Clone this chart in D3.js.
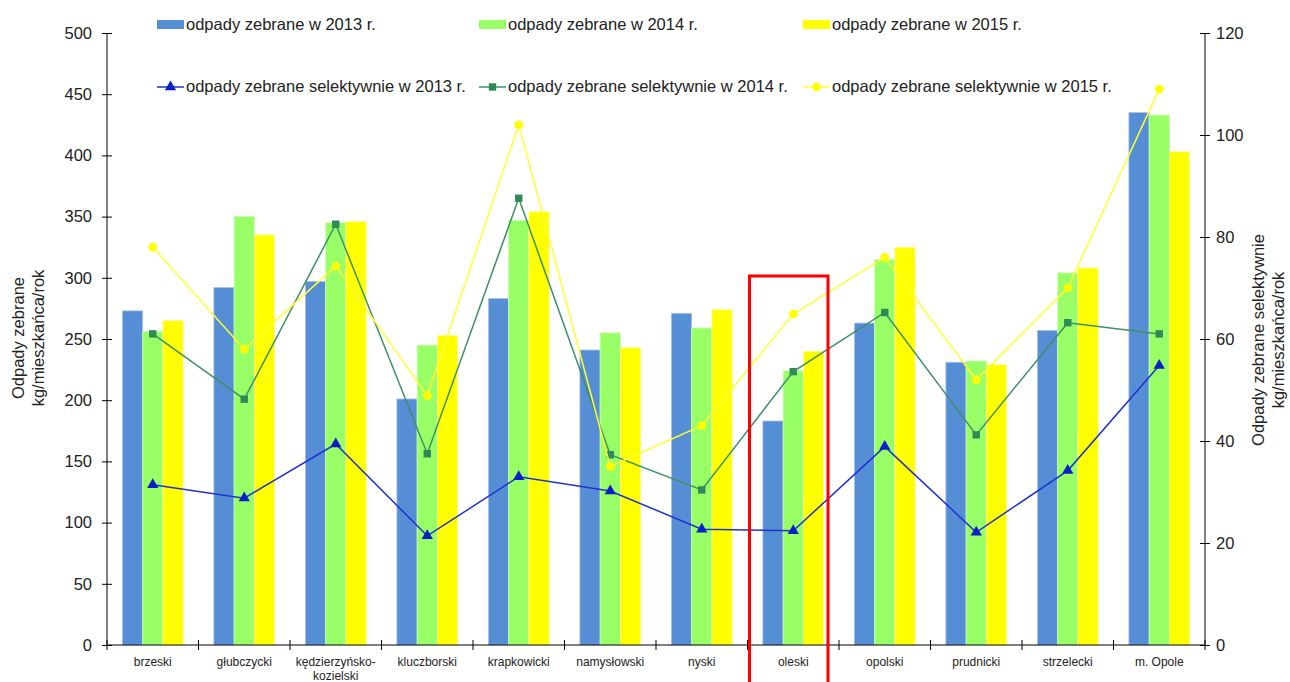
<!DOCTYPE html>
<html>
<head>
<meta charset="utf-8">
<script src="https://cdn.jsdelivr.net/npm/d3@7"></script>
<style>
  body { margin: 0; background: #fff; }
  svg { display: block; font-family: "Liberation Sans", Arial, sans-serif; }
  .axis path, .axis line { stroke: #000; }
  .axis text { font-size: 16.5px; fill: #222; }
</style>
</head>
<body>
<div id="chart"></div>
<script>
// categories + values (kg per person per year)
const powiaty = ["brzeski", "głubczycki", "kędzierzyńsko-kozielski", "kluczborski", "krapkowicki",
  "namysłowski", "nyski", "oleski", "opolski", "prudnicki", "strzelecki", "m. Opole"];

const zebrane2013 = [273, 292, 297, 201, 283, 241, 271, 183, 263, 231, 257, 435];
const zebrane2014 = [256, 350, 345, 245, 347, 255, 259, 224, 315, 232, 304, 433];
const zebrane2015 = [265, 335, 346, 253, 354, 243, 274, 240, 325, 229, 308, 403];

const selekt2013 = [31.4, 28.8, 39.4, 21.4, 33.0, 30.2, 22.7, 22.4, 38.9, 22.1, 34.2, 54.8];
const selekt2014 = [61.0, 48.2, 82.5, 37.5, 87.6, 37.3, 30.4, 53.6, 65.2, 41.2, 63.2, 61.0];
const selekt2015 = [78.0, 58.0, 74.3, 48.9, 102.0, 35.0, 43.0, 64.9, 76.0, 52.0, 70.0, 109.0];

const leftTicks = [0, 50, 100, 150, 200, 250, 300, 350, 400, 450, 500];
const rightTicks = [0, 20, 40, 60, 80, 100, 120];

const barSeries = [
  { name: "odpady zebrane w 2013 r.", values: zebrane2013, color: "#568ed6", edge: "#a8c3ea" },
  { name: "odpady zebrane w 2014 r.", values: zebrane2014, color: "#99ff66", edge: "#c8ffb0" },
  { name: "odpady zebrane w 2015 r.", values: zebrane2015, color: "#ffff00", edge: "#ffff99" }
];
const lineSeries = [
  { name: "odpady zebrane selektywnie w 2013 r.", values: selekt2013, color: "#1f33cc", marker: "#0a1ec8", shape: d3.symbolTriangle },
  { name: "odpady zebrane selektywnie w 2014 r.", values: selekt2014, color: "#3d9066", marker: "#2e8b57", shape: d3.symbolSquare },
  { name: "odpady zebrane selektywnie w 2015 r.", values: selekt2015, color: "#ffff33", marker: "#ffff00", shape: d3.symbolCircle }
];

const width = 1290, height = 682;
const plot = { left: 107, right: 1205, top: 33, bottom: 645 };

const svg = d3.select("#chart").append("svg")
  .attr("width", width)
  .attr("height", height);

const x = d3.scaleBand().domain(powiaty).range([plot.left, plot.right]).padding(0);
const x1 = d3.scaleBand().domain(barSeries.map(s => s.name))
  .range([0, x.bandwidth()]).paddingInner(0).paddingOuter(0.76);
const yLeft = d3.scaleLinear().domain([0, 500]).range([plot.bottom, plot.top]);
const yRight = d3.scaleLinear().domain([0, 120]).range([plot.bottom, plot.top]);

// bars
barSeries.forEach(s => {
  svg.append("g").selectAll("rect")
    .data(s.values)
    .enter().append("rect")
      .attr("x", (d, i) => x(powiaty[i]) + x1(s.name))
      .attr("y", d => yLeft(d))
      .attr("width", x1.bandwidth())
      .attr("height", d => yLeft(0) - yLeft(d))
      .attr("fill", s.color)
      .attr("stroke", s.edge)
      .attr("stroke-width", 0.8);
});

// axes
let axL = svg.append("g").attr("class", "axis")
  .attr("transform", `translate(${plot.left},0)`)
  .call(d3.axisLeft(yLeft).tickValues(leftTicks).tickSize(5).tickPadding(10));
axL.selectAll(".tick line").attr("x1", 5);
axL.select(".domain").attr("d", `M0,${plot.top}V${plot.bottom}`);

let axR = svg.append("g").attr("class", "axis")
  .attr("transform", `translate(${plot.right},0)`)
  .call(d3.axisRight(yRight).tickValues(rightTicks).tickSize(5).tickPadding(6));
axR.selectAll(".tick line").attr("x1", -5);
axR.select(".domain").attr("d", `M0,${plot.top}V${plot.bottom}`);

// x axis with boundary ticks
let axX = svg.append("g").attr("class", "axis")
  .attr("transform", `translate(0,${plot.bottom})`);
axX.append("line").attr("x1", plot.left).attr("x2", plot.right).attr("stroke", "#000");
axX.selectAll("line.bound")
  .data(powiaty.concat(["end"]))
  .enter().append("line")
    .attr("class", "bound")
    .attr("x1", (d, i) => i < powiaty.length ? x(d) : plot.right)
    .attr("x2", (d, i) => i < powiaty.length ? x(d) : plot.right)
    .attr("y1", -5).attr("y2", 5)
    .attr("stroke", "#000");
axX.selectAll("text.cat")
  .data(powiaty)
  .enter().append("text")
    .attr("class", "cat")
    .attr("x", d => x(d) + x.bandwidth() / 2)
    .attr("y", 21)
    .attr("text-anchor", "middle")
    .style("font-size", "12px")
    .attr("fill", "#222")
    .each(function (d) {
      let parts = d === "kędzierzyńsko-kozielski" ? ["kędzierzyńsko-", "kozielski"] : [d];
      d3.select(this).selectAll("tspan").data(parts).enter().append("tspan")
        .attr("x", x(d) + x.bandwidth() / 2)
        .attr("dy", (p, j) => j === 0 ? 0 : 13.5)
        .text(p => p);
    });

// lines
lineSeries.forEach(s => {
  let pts = s.values.map((v, i) => [x(powiaty[i]) + x.bandwidth() / 2, yRight(v)]);
  svg.append("path")
    .attr("d", d3.line()(pts))
    .attr("fill", "none")
    .attr("stroke", s.color)
    .attr("stroke-width", 1.5);
  svg.append("g").selectAll("path")
    .data(pts)
    .enter().append("path")
      .attr("transform", d => `translate(${d[0]},${d[1]})`)
      .attr("d", d3.symbol().type(s.shape).size(s.shape === d3.symbolCircle ? 60 : 55))
      .attr("fill", s.marker);
});

// axis titles
const leftTitle = svg.append("text")
  .attr("transform", "translate(24,338) rotate(-90)")
  .attr("text-anchor", "middle")
  .style("font-size", "16.5px").attr("fill", "#222");
leftTitle.append("tspan").attr("x", 0).attr("dy", 0).text("Odpady zebrane");
leftTitle.append("tspan").attr("x", 0).attr("dy", 20).text("kg/mieszkańca/rok");

const rightTitle = svg.append("text")
  .attr("transform", "translate(1264,340) rotate(-90)")
  .attr("text-anchor", "middle")
  .style("font-size", "16.5px").attr("fill", "#222");
rightTitle.append("tspan").attr("x", 0).attr("dy", 0).text("Odpady zebrane selektywnie");
rightTitle.append("tspan").attr("x", 0).attr("dy", 20).text("kg/mieszkańca/rok");

// legend
const legendX = [157, 479, 803];
barSeries.forEach((s, i) => {
  let g = svg.append("g").attr("transform", `translate(${legendX[i]},0)`);
  g.append("rect").attr("x", 0).attr("y", 20).attr("width", 27).attr("height", 9).attr("fill", s.color);
  g.append("text").attr("x", 29).attr("y", 30).style("font-size", "16.5px").attr("fill", "#222").text(s.name);
});
lineSeries.forEach((s, i) => {
  let g = svg.append("g").attr("transform", `translate(${legendX[i]},0)`);
  g.append("line").attr("x1", 0).attr("x2", 27).attr("y1", 87).attr("y2", 87)
    .attr("stroke", s.color).attr("stroke-width", 1.5);
  g.append("path").attr("transform", "translate(13.5,87)")
    .attr("d", d3.symbol().type(s.shape).size(s.shape === d3.symbolCircle ? 60 : 55))
    .attr("fill", s.marker);
  g.append("text").attr("x", 29).attr("y", 92).style("font-size", "16.5px").attr("fill", "#222").text(s.name);
});

// highlight box around "oleski"
svg.append("rect")
  .attr("x", x("oleski") + 2)
  .attr("y", 276)
  .attr("width", x.bandwidth() - 13)
  .attr("height", 420)
  .attr("fill", "none")
  .attr("stroke", "#ff0000")
  .attr("stroke-width", 3);
</script>
</body>
</html>
